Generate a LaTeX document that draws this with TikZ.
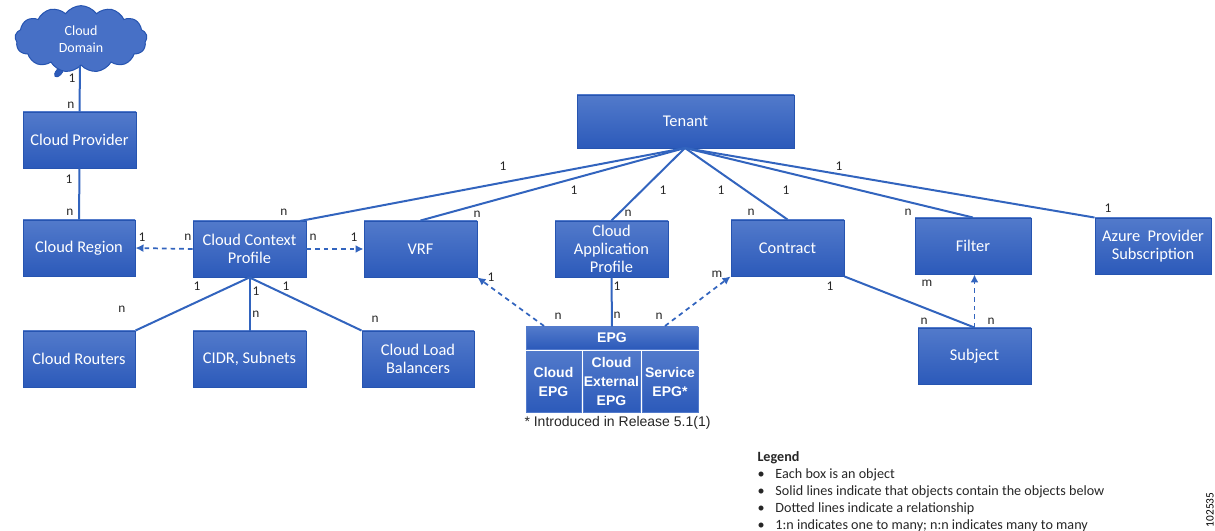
\documentclass[tikz,border=0pt]{standalone}
\usepackage{fontspec}
\setmainfont{Carlito}
\newfontfamily\arialfont{Liberation Sans}
\usetikzlibrary{shapes.symbols,arrows.meta}
\definecolor{boxtop}{RGB}{82,122,203}
\definecolor{boxbot}{RGB}{44,90,186}
\definecolor{boxedge}{RGB}{38,84,176}
\definecolor{linkblue}{RGB}{50,100,190}
\tikzset{every picture/.style={line width=0.75pt},
  objbox/.style={draw=boxedge,line width=0.7pt,top color=boxtop,bottom color=boxbot,text=white,align=center,inner sep=0pt,font=\fontsize{12.3}{13.5}\selectfont},
  epgbox/.style={objbox,draw=boxtop,line width=0.5pt,font=\arialfont\fontsize{10.5}{14.25}\selectfont\bfseries},
  contain/.style={draw=linkblue,line width=1.5pt},
  relate/.style={draw=linkblue,line width=1.3pt,dashed,dash pattern=on 3.5pt off 3pt,-{Latex[length=6pt,width=6pt]}},
  card/.style={inner sep=0pt,text=black!85,font=\fontsize{10}{11}\selectfont}}

\begin{document}
\begin{tikzpicture}[x=0.75pt,y=0.75pt,yscale=-1,xscale=1]
        \useasboundingbox (0,0) rectangle (1215,531);

        %Cloud
        \draw[boxedge,fill=boxbot,line width=0.6pt,rotate around={40:(59,72)}] (59,72) ellipse (3 and 6);
        \node (domain) [cloud,cloud puffs=13,cloud puff arc=110,draw=boxedge,fill=boxtop!70!boxbot,text=white,align=center,inner sep=0pt,minimum width=99pt,minimum height=50pt,aspect=2.6,font=\fontsize{10.5}{12.75}\selectfont] at (81,39) {Cloud\\Domain};

        %Boxes
        \node (provider) [objbox,minimum width=84.75pt,minimum height=42pt] at (79.5,140) {Cloud Provider};
        \node (region) [objbox,minimum width=84pt,minimum height=42pt] at (79,248) {Cloud Region};
        \node (context) [objbox,minimum width=84.75pt,minimum height=42pt] at (249.5,249) {Cloud Context\\Profile};
        \node (vrf) [objbox,minimum width=84.75pt,minimum height=42pt] at (420.5,249) {VRF};
        \node (approfile) [objbox,minimum width=84.75pt,minimum height=42pt] at (611.5,249) {Cloud\\Application\\Profile};
        \node (contract) [objbox,minimum width=84.75pt,minimum height=42pt] at (787.5,248) {Contract};
        \node (filter) [objbox,minimum width=87pt,minimum height=42pt] at (973,246) {Filter};
        \node (azure) [objbox,minimum width=87pt,minimum height=42pt] at (1153,246) {Azure\ \ Provider\\Subscription};
        \node (tenant) [objbox,minimum width=162.75pt,minimum height=39.75pt] at (685.5,121.5) {Tenant};
        \node (routers) [objbox,minimum width=84pt,minimum height=42pt] at (79,359) {Cloud Routers};
        \node (cidr) [objbox,minimum width=84.75pt,minimum height=42pt] at (249.5,359) {CIDR, Subnets};
        \node (balancers) [objbox,minimum width=84pt,minimum height=42pt] at (418,359) {Cloud Load\\Balancers};
        \node (subject) [objbox,minimum width=84.75pt,minimum height=42pt] at (974.5,356) {Subject};
        \node (epg) [epgbox,minimum width=129pt,minimum height=16.5pt] at (612,338) {EPG};
        \node (cloudepg) [epgbox,minimum width=41.25pt,minimum height=45.75pt] at (553.5,381.5) {Cloud\\EPG};
        \node (extepg) [epgbox,minimum width=42.75pt,minimum height=45.75pt] at (611.5,381.5) {Cloud\\External\\EPG};
        \node (svcepg) [epgbox,minimum width=42pt,minimum height=45.75pt] at (670,381.5) {Service\\EPG*};

        %Solid connectors
        \coordinate (tenantfoot) at (685,148);
        \coordinate (domainfoot) at (80,66);
        \coordinate (contextcorner) at (300,221);
        \draw[contain] (domainfoot) -- (provider.north);
        \draw[contain] (provider.south) -- (region.north);
        \draw[contain] (tenantfoot) -- (contextcorner);
        \draw[contain] (tenantfoot) -- (vrf.north);
        \draw[contain] (tenantfoot) -- (approfile.north);
        \draw[contain] (tenantfoot) -- (contract.north);
        \draw[contain] (tenantfoot) -- (filter.north);
        \draw[contain] (tenantfoot) -- (azure.north west);
        \draw[contain] (context.south) -- (routers.north east);
        \draw[contain] (context.south) -- (cidr.north);
        \draw[contain] (context.south) -- (balancers.north west);
        \draw[contain] (approfile.south) -- (epg.north);
        \draw[contain] (contract.south east) -- (subject.north);

        %Dotted connectors
        \coordinate (epgleft) at (544,326);
        \coordinate (epgright) at (665,326);
        \draw[relate] (context.west) -- (region.east);
        \draw[relate] (context.east) -- (vrf.west);
        \draw[relate] (epgleft) -- (vrf.south east);
        \draw[relate] (epgright) -- (contract.south west);
        \draw[relate] (subject.north) -- (subject.north |- filter.south);

        %Cardinalities
        \node [card] at (72,78) {1};
        \node [card] at (71,105) {n};
        \node [card] at (69,179) {1};
        \node [card] at (70,212) {n};
        \node [card] at (142,237) {1};
        \node [card] at (188,237) {n};
        \node [card] at (284,212) {n};
        \node [card] at (313,237) {n};
        \node [card] at (354,237) {1};
        \node [card] at (503,166) {1};
        \node [card] at (574,190) {1};
        \node [card] at (477,214) {n};
        \node [card] at (663,190) {1};
        \node [card] at (628,213) {n};
        \node [card] at (721,190) {1};
        \node [card] at (786,190) {1};
        \node [card] at (751,212) {n};
        \node [card] at (839,166) {1};
        \node [card] at (908,212) {n};
        \node [card] at (1108,208) {1};
        \node [card] at (197,286) {1};
        \node [card] at (256,291) {1};
        \node [card] at (286,286) {1};
        \node [card] at (122,309) {n};
        \node [card] at (256,314) {n};
        \node [card] at (375,319) {n};
        \node [card] at (491,277) {1};
        \node [card] at (558,316) {n};
        \node [card] at (617,286) {1};
        \node [card] at (617,315) {n};
        \node [card] at (659,316) {n};
        \node [card] at (717,274) {m};
        \node [card] at (830,286) {1};
        \node [card] at (927,283) {m};
        \node [card] at (924,321) {n};
        \node [card] at (991,321) {n};

        %Texts
        \node (note) [anchor=west,inner sep=0pt,text=black!85,font=\arialfont\fontsize{10.5}{13}\selectfont] at (524,423) {* Introduced in Release 5.1(1)};
        \node (legend) [anchor=north west,inner sep=0pt,align=left,text=black!85,font=\fontsize{10.6}{12.75}\selectfont] at (757,451) {\textbf{Legend}\\
          \makebox[13.5pt][l]{\textbullet}Each box is an object\\
          \makebox[13.5pt][l]{\textbullet}Solid lines indicate that objects contain the objects below\\
          \makebox[13.5pt][l]{\textbullet}Dotted lines indicate a relationship\\
          \makebox[13.5pt][l]{\textbullet}1:n indicates one to many; n:n indicates many to many};
        \node (figid) [rotate=90,inner sep=0pt,text=black,font=\fontsize{8.5}{9}\selectfont] at (1210,510) {102535};
\end{tikzpicture}
\end{document}
